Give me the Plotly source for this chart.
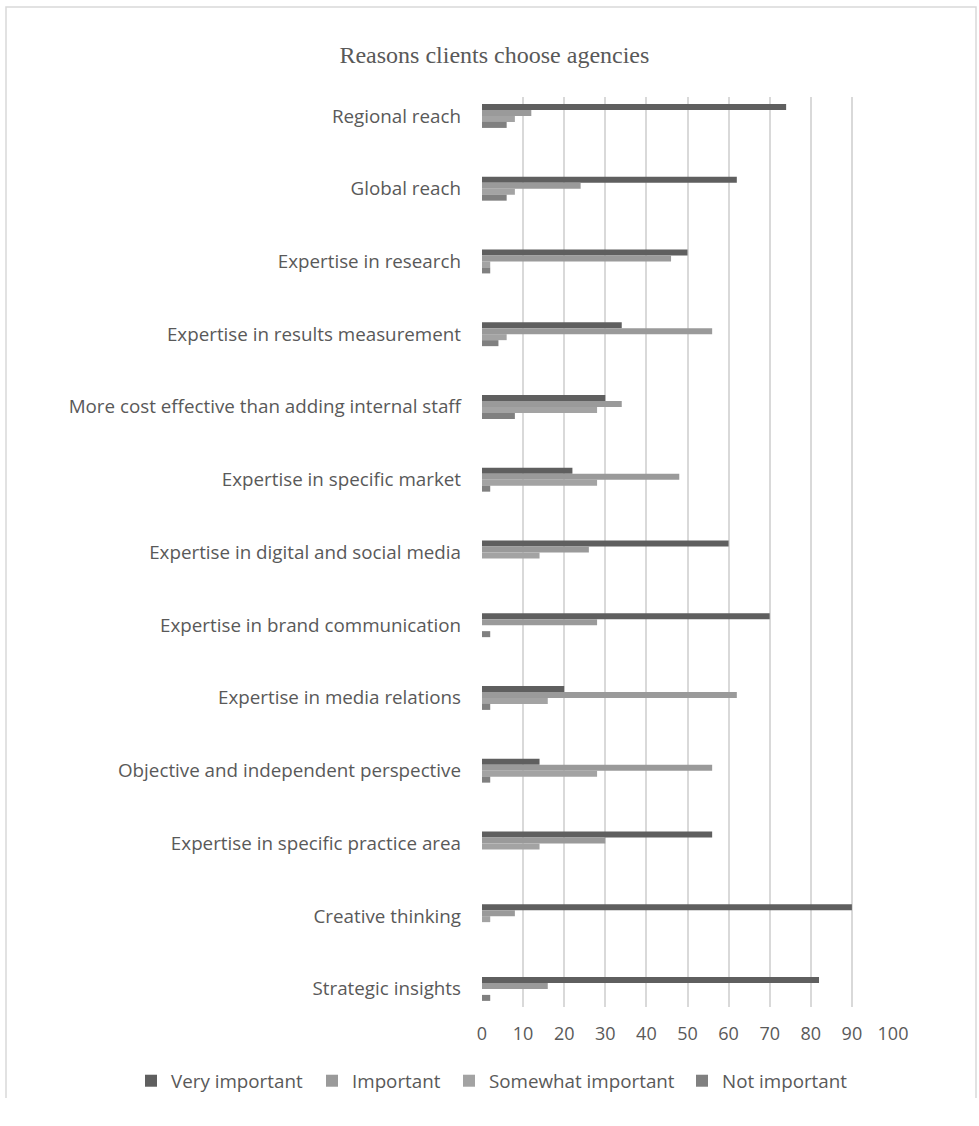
import plotly.graph_objects as go

categories = [
    "Regional reach",
    "Global reach",
    "Expertise in research",
    "Expertise in results measurement",
    "More cost effective than adding internal staff",
    "Expertise in specific market",
    "Expertise in digital and social media",
    "Expertise in brand communication",
    "Expertise in media relations",
    "Objective and independent perspective",
    "Expertise in specific practice area",
    "Creative thinking",
    "Strategic insights",
]

very_important = [74, 62, 50, 34, 30, 22, 60, 70, 20, 14, 56, 90, 82]
important = [12, 24, 46, 56, 34, 48, 26, 28, 62, 56, 30, 8, 16]
somewhat_important = [8, 8, 2, 6, 28, 28, 14, 0, 16, 28, 14, 2, 0]
not_important = [6, 6, 2, 4, 8, 2, 0, 2, 2, 2, 0, 0, 2]

series_names = ["Very important", "Important", "Somewhat important", "Not important"]
series_values = [very_important, important, somewhat_important, not_important]
series_colors = ["#5f5f5f", "#9a9a9a", "#a3a3a3", "#808080"]

x_ticks = [0, 10, 20, 30, 40, 50, 60, 70, 80, 90, 100]

W, H = 979, 1126
L, R, T, B = 482, 893, 97, 1007

def px(xp):
    return (xp - L) / (R - L)

def py(yp):
    return (B - yp) / (B - T)

legend_ids = ["legend2", "legend3", "legend4", "legend5"]
legend_left = [131, 312, 449, 682]

fig = go.Figure()
for name, vals, col, lid in zip(series_names, series_values, series_colors, legend_ids):
    fig.add_trace(go.Bar(
        y=categories, x=vals, name=name, orientation="h", showlegend=True,
        marker=dict(color=col, line=dict(width=0)), legend=lid,
    ))

border = "M {x0},{y1} L {x0},{y0} L {x1},{y0} L {x1},{y1}".format(
    x0=px(6), x1=px(976), y0=py(7), y1=py(1098))

legend_style = dict(orientation="h", xanchor="left", yanchor="middle",
                    bgcolor="rgba(0,0,0,0)", itemwidth=30,
                    font=dict(family="Open Sans", size=18.8, color="#595959"))

layout_legends = {}
for lid, lx in zip(legend_ids, legend_left):
    layout_legends[lid] = dict(legend_style, x=px(lx), y=py(1081))

fig.update_layout(
    width=W, height=H, showlegend=True,
    margin=dict(l=L, r=W - R, t=T, b=H - B, autoexpand=False),
    paper_bgcolor="white", plot_bgcolor="white",
    barmode="group", bargap=0.67, bargroupgap=0,
    title=dict(text="Reasons clients choose agencies",
               font=dict(family="Liberation Serif", size=24, color="#595959"),
               x=0.505, xanchor="center", y=1 - 55 / H, yanchor="middle"),
    xaxis=dict(range=[0, 100], tickvals=x_ticks, showgrid=True,
               gridcolor="#d9d9d9", gridwidth=2, zeroline=False,
               showline=False, ticks="", ticklabelstandoff=14,
               tickfont=dict(family="Open Sans", size=18, color="#595959")),
    yaxis=dict(range=[12.249, -0.26], showgrid=False, zeroline=False,
               showline=False, ticks="", ticklabelstandoff=20,
               tickfont=dict(family="Open Sans", size=18.8, color="#595959")),
    shapes=[dict(type="path", xref="paper", yref="paper", path=border,
                 line=dict(color="#d9d9d9", width=1.5), layer="below")],
    **layout_legends,
)

fig.write_html("out.html")
